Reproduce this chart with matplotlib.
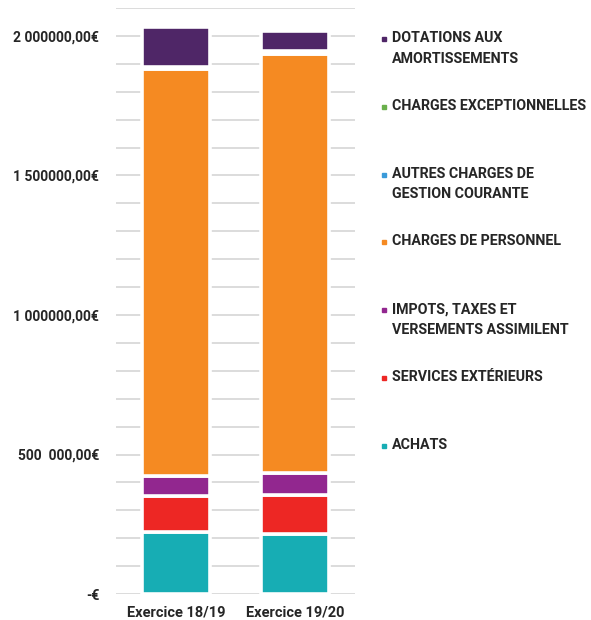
import numpy as np
import matplotlib.pyplot as plt
from matplotlib.lines import Line2D

plt.rcParams['font.family'] = ['Roboto', 'DejaVu Sans']

exercices = ['Exercice 18/19', 'Exercice 19/20']

# values in euros, bottom to top of the stack
achats = [221000, 215000]
services = [131000, 141000]
impots = [72000, 78000]
personnel = [1459000, 1501000]
autres = [4000, 6000]
exceptionnelles = [2000, 4000]
dotations = [143000, 72000]

series = [
	('ACHATS', achats, '#17adb4'),
	('SERVICES EXTÉRIEURS', services, '#ed2724'),
	('IMPOTS, TAXES ET\nVERSEMENTS ASSIMILENT', impots, '#92278f'),
	('CHARGES DE PERSONNEL', personnel, '#f58a22'),
	('AUTRES CHARGES DE\nGESTION COURANTE', autres, '#3a9ad9'),
	('CHARGES EXCEPTIONNELLES', exceptionnelles, '#6ab04c'),
	('DOTATIONS AUX\nAMORTISSEMENTS', dotations, '#4f2667'),
]

yticks = [0, 500000, 1000000, 1500000, 2000000]
ytick_labels = ['-€', '500  000,00€', '1 000000,00€', '1 500000,00€', '2 000000,00€']

fig = plt.figure(figsize=(5.91, 6.2), dpi=100)
ax = fig.add_axes([0.1963, 0.0419, 0.4044, 0.9451])

x = np.arange(len(exercices))
bottom = np.zeros(len(exercices))
for label, vals, col in series:
	ax.bar(x, vals, width=0.57, bottom=bottom, color=col, edgecolor='white', linewidth=2.6, zorder=3)
	bottom += np.array(vals)

# gridlines every 100 000
for g in np.arange(0, 2100001, 100000):
	ax.axhline(g, color='#d9d9d9', linewidth=1.3, zorder=1)

ax.set_xlim(-0.5, 1.5)
ax.set_ylim(0, 2100000)
ax.set_xticks(x)
ax.set_xticklabels(exercices, fontsize=10.5, fontweight='bold', color='#262626')
ax.set_yticks(yticks)
ax.set_yticklabels(ytick_labels, fontsize=10, fontweight='bold', color='#262626')
ax.tick_params(axis='both', length=0)
ax.tick_params(axis='y', pad=12)
ax.tick_params(axis='x', pad=8)
for s in ax.spines.values():
	s.set_visible(False)

# legend, top entry first, evenly spaced
top_y = 1 - 31 / 620.0
step = 67.8 / 620.0
for i, (label, vals, col) in enumerate(series[::-1]):
	yy = top_y - i * step
	fig.add_artist(Line2D([384 / 591.0], [yy - 8 / 620.0], marker='s', markersize=3.2,
		color=col, transform=fig.transFigure))
	fig.text(392 / 591.0, yy, label, fontsize=10.3, fontweight='bold', color='#262626',
		va='top', ha='left', linespacing=1.6)

plt.savefig('out.png', dpi=100)
